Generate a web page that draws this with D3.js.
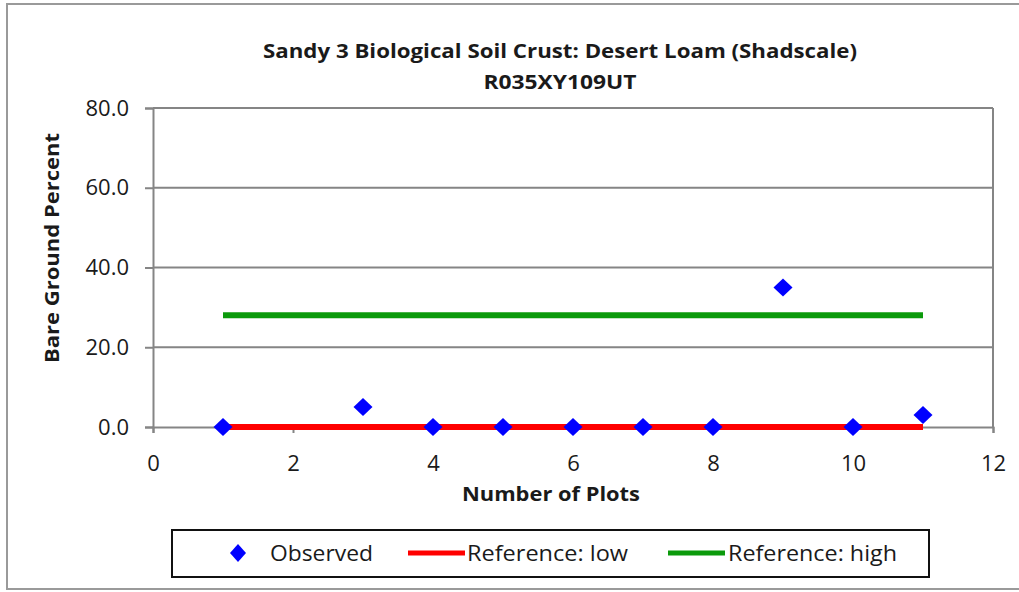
<!DOCTYPE html>
<html>
<head>
<meta charset="utf-8">
<script src="https://cdn.jsdelivr.net/npm/d3@7"></script>
<style>
  html, body { margin: 0; padding: 0; background: #fff; }
  svg { display: block; font-family: "Open Sans", Lato, "DejaVu Sans", sans-serif; }
</style>
</head>
<body>
<svg id="chart" width="1019" height="592"></svg>
<script>
// Plot numbers and observed bare ground percentages
const plotNumbers = [1, 3, 4, 5, 6, 7, 8, 9, 10, 11];
const observed    = [0, 5, 0, 0, 0, 0, 0, 35, 0, 3];
// Reference range lines spanning plots 1 to 11
const referenceX    = [1, 11];
const referenceLow  = [0, 0];
const referenceHigh = [28, 28];
// Axis ticks
const xTicks = [0, 2, 4, 6, 8, 10, 12];
const yTicks = [0, 20, 40, 60, 80];
const legendLabels = ["Observed", "Reference: low", "Reference: high"];

const svg = d3.select("#chart");
const m = { left: 153, right: 993, top: 108, bottom: 427 };
const axisGray = "#858585";
const textColor = "#1a1a1a";
const green = "#0b9a0b", red = "#ff0000", blue = "#0000ff";

// Outer chart frame
svg.append("rect")
  .attr("x", 7).attr("y", 4).attr("width", 1040).attr("height", 585)
  .attr("fill", "#fff").attr("stroke", "#9a9a9a").attr("stroke-width", 2);

const x = d3.scaleLinear().domain([0, 12]).range([m.left, m.right]);
const y = d3.scaleLinear().domain([0, 80]).range([m.bottom, m.top]);

// Title (two lines)
svg.append("text").attr("x", 560).attr("y", 58).attr("text-anchor", "middle")
  .attr("font-size", 19).attr("font-weight", "bold").attr("fill", textColor)
  .attr("textLength", 594).attr("lengthAdjust", "spacingAndGlyphs")
  .text("Sandy 3 Biological Soil Crust: Desert Loam (Shadscale)");
svg.append("text").attr("x", 560).attr("y", 89).attr("text-anchor", "middle")
  .attr("font-size", 19).attr("font-weight", "bold").attr("fill", textColor)
  .attr("textLength", 153).attr("lengthAdjust", "spacingAndGlyphs")
  .text("R035XY109UT");

// Horizontal gridlines
svg.append("g").selectAll("line").data(yTicks.filter(d => d > 0)).join("line")
  .attr("x1", m.left).attr("x2", m.right)
  .attr("y1", d => y(d)).attr("y2", d => y(d))
  .attr("stroke", axisGray).attr("stroke-width", 2);

// Right border of plot area
svg.append("line").attr("x1", m.right).attr("x2", m.right)
  .attr("y1", m.top).attr("y2", m.bottom)
  .attr("stroke", axisGray).attr("stroke-width", 2);

// Y axis
const yAxis = d3.axisLeft(y).tickValues(yTicks).tickFormat(d3.format(".1f"))
  .tickSize(8).tickPadding(16);
const gy = svg.append("g").attr("transform", `translate(${m.left},0)`).call(yAxis);
gy.select(".domain").attr("stroke", axisGray).attr("stroke-width", 2);
gy.selectAll(".tick line").attr("stroke", axisGray).attr("stroke-width", 2);
gy.selectAll(".tick text").attr("font-size", 22).attr("fill", textColor)
  .attr("font-family", "'Open Sans', sans-serif");

// X axis
const xAxis = d3.axisBottom(x).tickValues(xTicks).tickFormat(d3.format("d"))
  .tickSize(6).tickPadding(22);
const gx = svg.append("g").attr("transform", `translate(0,${m.bottom})`).call(xAxis);
gx.select(".domain").attr("stroke", axisGray).attr("stroke-width", 2);
gx.selectAll(".tick line").attr("stroke", axisGray).attr("stroke-width", 2);
gx.selectAll(".tick text").attr("font-size", 22).attr("fill", textColor)
  .attr("font-family", "'Open Sans', sans-serif");

// Axis titles
svg.append("text").attr("x", 551).attr("y", 501).attr("text-anchor", "middle")
  .attr("font-size", 20).attr("font-weight", "bold").attr("fill", textColor)
  .attr("textLength", 178).attr("lengthAdjust", "spacingAndGlyphs")
  .text("Number of Plots");
svg.append("text")
  .attr("transform", "translate(59,248) rotate(-90)")
  .attr("text-anchor", "middle")
  .attr("font-size", 20).attr("font-weight", "bold").attr("fill", textColor)
  .attr("textLength", 230).attr("lengthAdjust", "spacingAndGlyphs")
  .text("Bare Ground Percent");

// Reference lines
const line = d3.line().x(d => x(d[0])).y(d => y(d[1]));
svg.append("path").datum(d3.zip(referenceX, referenceHigh))
  .attr("d", line).attr("fill", "none").attr("stroke", green).attr("stroke-width", 6);
svg.append("path").datum(d3.zip(referenceX, referenceLow))
  .attr("d", line).attr("fill", "none").attr("stroke", red).attr("stroke-width", 6);

// Diamond marker path centred on the origin
const diamondPath = (hw, hh) => `M0,${-hh}L${hw},0L0,${hh}L${-hw},0Z`;

// Observed points
svg.append("g").selectAll("path").data(d3.zip(plotNumbers, observed)).join("path")
  .attr("transform", d => `translate(${x(d[0])},${y(d[1])})`)
  .attr("d", diamondPath(9.5, 9)).attr("fill", blue);

// Legend
const lg = svg.append("g");
lg.append("rect").attr("x", 172).attr("y", 530).attr("width", 757).attr("height", 47)
  .attr("fill", "#fff").attr("stroke", "#111").attr("stroke-width", 2);
const ly = 553;
lg.append("path").attr("transform", `translate(238,${ly})`)
  .attr("d", diamondPath(8, 9)).attr("fill", blue);
lg.append("line").attr("x1", 408).attr("x2", 465).attr("y1", ly).attr("y2", ly)
  .attr("stroke", red).attr("stroke-width", 5);
lg.append("line").attr("x1", 668).attr("x2", 725).attr("y1", ly).attr("y2", ly)
  .attr("stroke", green).attr("stroke-width", 5);
const lx = [270, 467, 728];
const lw = [103, 161, 169];
lg.selectAll("text").data(legendLabels).join("text")
  .attr("x", (d, i) => lx[i]).attr("y", ly + 8)
  .attr("font-size", 21).attr("fill", textColor)
  .attr("textLength", (d, i) => lw[i]).attr("lengthAdjust", "spacingAndGlyphs")
  .text(d => d);
</script>
</body>
</html>
